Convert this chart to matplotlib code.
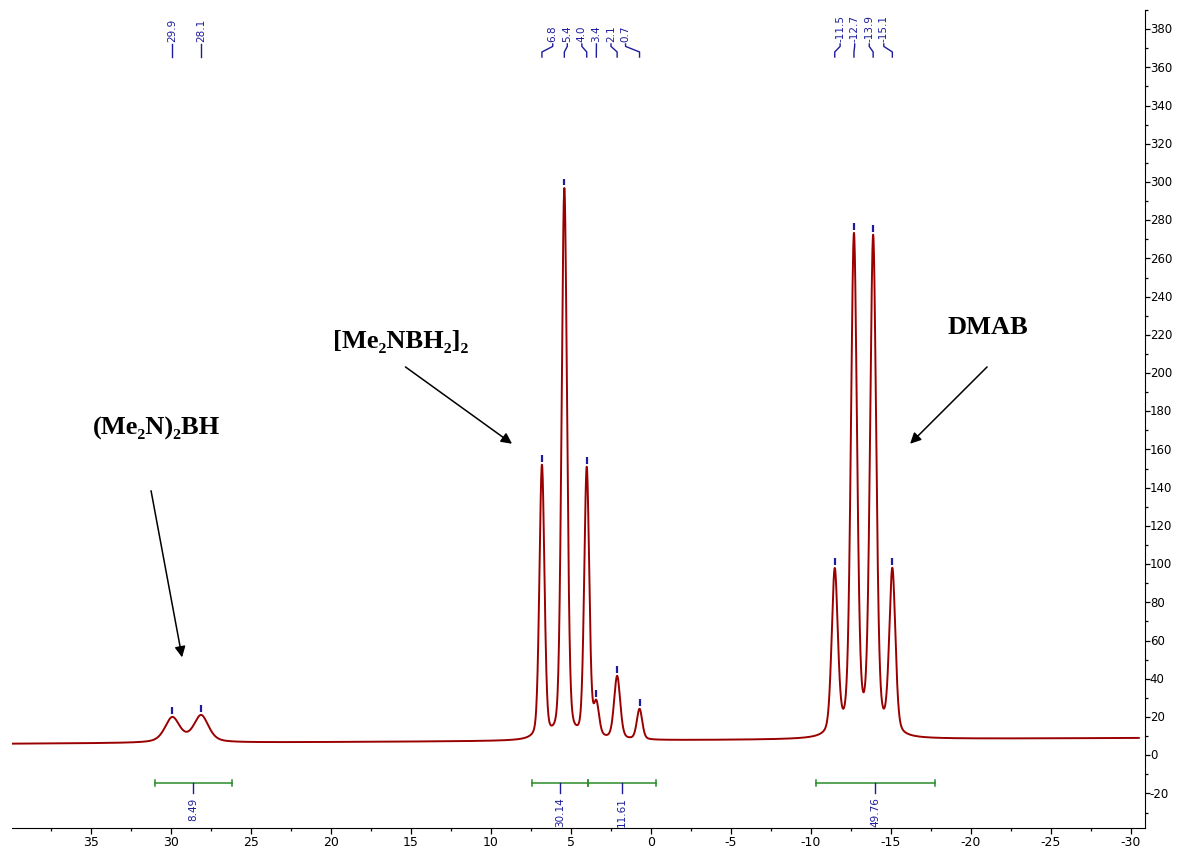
import numpy as np
import matplotlib
matplotlib.use("Agg")
import matplotlib.pyplot as plt
from matplotlib.transforms import ScaledTranslation, blended_transform_factory

# ---------------- data ----------------
peak_ppm = [29.9, 28.1, 6.8, 5.4, 4.0, 3.4, 2.1, 0.7, -11.5, -12.7, -13.9, -15.1]
peak_height = [13, 14, 143, 288, 141, 17, 33, 16, 86, 261, 260, 86]
peak_fwhm = [1.1, 1.1, 0.37, 0.40, 0.37, 0.40, 0.45, 0.40, 0.45, 0.45, 0.45, 0.45]
peak_lorentz_frac = [0.5, 0.5, 0.26, 0.26, 0.26, 0.35, 0.3, 0.3, 0.33, 0.33, 0.33, 0.33]
peak_groups = [[0, 1], [2, 3, 4, 5, 6, 7], [8, 9, 10, 11]]
baseline_left = 6.0
baseline_right = 9.0

integral_ranges = [(31.0, 26.2), (7.4, 3.9), (3.9, -0.33), (-10.3, -17.75)]
integral_values = [8.49, 30.14, 11.61, 49.76]

compound_labels = ["(Me₂N)₂BH", "[Me₂NBH₂]₂", "DMAB"]

x_ticks = [35, 30, 25, 20, 15, 10, 5, 0, -5, -10, -15, -20, -25, -30]
y_ticks = list(range(-20, 381, 20))

# ---------------- spectrum ----------------
ppm = np.linspace(39.9, -30.5, 5000)
spec = baseline_left + (baseline_right - baseline_left) * (39.9 - ppm) / (39.9 + 30.5)
for p, h, w, eta in zip(peak_ppm, peak_height, peak_fwhm, peak_lorentz_frac):
    hw = w / 2
    lor = hw**2 / (hw**2 + (ppm - p) ** 2)
    gau = np.exp(-4 * np.log(2) * ((ppm - p) / w) ** 2)
    spec = spec + h * (eta * lor + (1 - eta) * gau)

# ---------------- figure ----------------
W, H = 1179, 849
fig = plt.figure(figsize=(W / 100, H / 100), dpi=100)
ax = fig.add_axes([12 / W, 1 - 828 / H, (1145 - 12) / W, (828 - 10) / H])
ax.set_xlim(39.92, -30.89)
ax.set_ylim(-38.1, 389.2)

red = "#9b0000"
navy = "#1c1c9c"
green = "#2a8c2a"

ax.plot(ppm, spec, color=red, lw=1.4)

# spines / ticks
for s in ["top", "left"]:
    ax.spines[s].set_visible(False)
ax.yaxis.tick_right()
ax.set_xticks(x_ticks)
ax.set_xticklabels([str(t) for t in x_ticks], fontsize=9)
ax.set_xticks(np.arange(37.5, -31, -5), minor=True)
ax.set_yticks(y_ticks)
ax.set_yticklabels([str(t) for t in y_ticks], fontsize=8.5)
ax.set_yticks(range(-30, 391, 20), minor=True)
ax.tick_params(axis="x", which="major", direction="out", length=4, width=0.9, pad=2)
ax.tick_params(axis="x", which="minor", direction="out", length=2, width=0.9)
ax.tick_params(axis="y", which="major", direction="out", length=3.5, width=0.9, pad=0)
ax.tick_params(axis="y", which="minor", direction="out", length=2.2, width=0.9)
off = ScaledTranslation(0, 0.008, fig.dpi_scale_trans)
for lab in ax.get_yticklabels():
    lab.set_transform(lab.get_transform() + off)

# peak pick markers
for p in peak_ppm:
    top = np.interp(-p, -ppm, spec)
    ax.plot([p, p], [top + 1.5, top + 5.0], color=navy, lw=1.6, solid_capstyle="butt")

# peak labels with connectors
bt = blended_transform_factory(ax.transData, ax.transAxes)
min_sep = 1.5
for grp in peak_groups:
    ps = [peak_ppm[i] for i in grp]
    gaps = [abs(a - b) for a, b in zip(ps[:-1], ps[1:])]
    if min(gaps) >= min_sep:
        lx = ps
    else:
        c = (max(ps) + min(ps)) / 2 + 0.1
        n = len(ps)
        lx = [c + ((n - 1) / 2 - k) * 0.91 for k in range(n)]
    for p, x in zip(ps, lx):
        ax.plot([x, x, p, p], [0.9585, 0.9555, 0.9487, 0.9425], transform=bt,
                color=navy, lw=1.0)
        ax.text(x, 0.9605, f"{p:.1f}", rotation=90, ha="center", va="bottom",
                transform=bt, fontsize=7.5, color=navy)

# integrals
yint = -14.6
for (a, b), v in zip(integral_ranges, integral_values):
    ax.plot([a, b], [yint, yint], color=green, lw=1.1)
    for e in (a, b):
        ax.plot([e, e], [yint - 1.4, yint + 1.4], color=green, lw=1.1)
    m = (a + b) / 2
    ax.plot([m, m], [yint, yint - 5.4], color=navy, lw=1.0)
    ax.text(m, yint - 7.5, f"{v:.2f}", rotation=90, ha="center", va="top",
            fontsize=7.5, color=navy)

# compound annotations
serif = ["Liberation Serif", "DejaVu Serif"]
ax.text(34.85, 170.8, compound_labels[0], fontsize=19, fontweight="bold",
        family=serif, ha="left", va="center")
ax.text(19.88, 216.3, compound_labels[1], fontsize=19, fontweight="bold",
        family=serif, ha="left", va="center")
ax.text(-18.58, 224.0, compound_labels[2], fontsize=19, fontweight="bold",
        family=serif, ha="left", va="center")

arrow_kw = dict(arrowstyle="-|>", mutation_scale=16, lw=1.1, color="black",
                shrinkA=0, shrinkB=0)
ax.annotate("", xy=(29.29, 51.2), xytext=(31.23, 138.4), arrowprops=arrow_kw)
ax.annotate("", xy=(8.67, 163.0), xytext=(15.33, 203.2), arrowprops=arrow_kw)
ax.annotate("", xy=(-16.21, 163.0), xytext=(-21.02, 203.2), arrowprops=arrow_kw)

fig.savefig("out.png", dpi=100)
